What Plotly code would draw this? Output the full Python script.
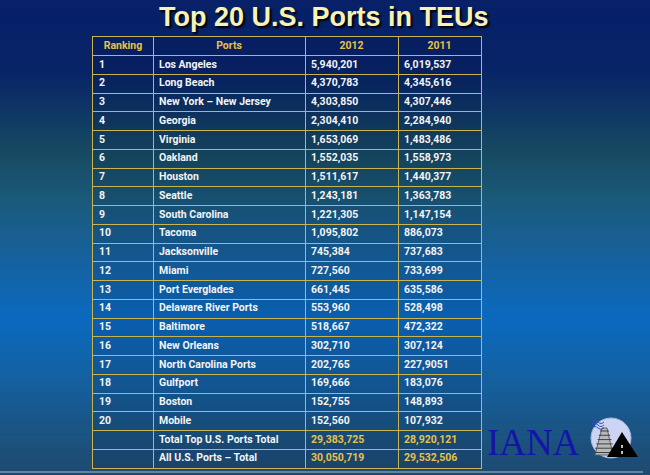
import plotly.graph_objects as go

rankings = [str(i) for i in range(1, 21)] + ["", ""]
ports = ["Los Angeles", "Long Beach", "New York – New Jersey", "Georgia", "Virginia",
         "Oakland", "Houston", "Seattle", "South Carolina", "Tacoma", "Jacksonville",
         "Miami", "Port Everglades", "Delaware River Ports", "Baltimore", "New Orleans",
         "North Carolina Ports", "Gulfport", "Boston", "Mobile",
         "Total Top U.S. Ports Total", "All U.S. Ports – Total"]
teu_2012 = ["5,940,201", "4,370,783", "4,303,850", "2,304,410", "1,653,069", "1,552,035",
            "1,511,617", "1,243,181", "1,221,305", "1,095,802", "745,384", "727,560",
            "661,445", "553,960", "518,667", "302,710", "202,765", "169,666", "152,755",
            "152,560", "29,383,725", "30,050,719"]
teu_2011 = ["6,019,537", "4,345,616", "4,307,446", "2,284,940", "1,483,486", "1,558,973",
            "1,440,377", "1,363,783", "1,147,154", "886,073", "737,683", "733,699",
            "635,586", "528,498", "472,322", "307,124", "227,9051", "183,076", "148,893",
            "107,932", "28,920,121", "29,532,506"]
headers = ["Ranking", "Ports", "2012", "2011"]
title_text = "Top 20 U.S. Ports in TEUs"

W, H = 650, 475
# table frame in pixels
TL, TR, TT, TB = 93, 481, 37, 468
col_edges = [0, 60, 212, 305, 388]          # column boundaries (x axis units = px)
PAD = 6

nrows = len(ports)
GOLD = "#e8c24a"
WHITE = "#f4f4f4"
LINE = "#c9b451"
FONT = "Roboto, Arial, sans-serif"


def px_x(px):
    return (px - TL) / (TR - TL)


def px_y(py):
    return (TB - py) / (TB - TT)


# background gradient stops (fraction from top, rgb)
stops = [(0.00, (7, 32, 104)), (0.15, (8, 36, 104)), (0.25, (16, 58, 100)),
         (0.32, (23, 74, 98)), (0.42, (26, 90, 122)), (0.53, (23, 96, 154)),
         (0.67, (11, 106, 192)), (0.80, (20, 96, 160)), (0.90, (26, 85, 133)),
         (1.00, (30, 74, 112))]


def col_at(t):
    for (t0, c0), (t1, c1) in zip(stops[:-1], stops[1:]):
        if t0 <= t <= t1:
            f = (t - t0) / (t1 - t0) if t1 > t0 else 0
            return "rgb(%d,%d,%d)" % tuple(round(a + (b - a) * f) for a, b in zip(c0, c1))
    return "rgb(%d,%d,%d)" % stops[-1][1]


shapes = []
n = 120
for i in range(n):
    y0p, y1p = H * i / n, H * (i + 1) / n
    shapes.append(dict(type="rect", xref="paper", yref="paper", x0=px_x(0), x1=px_x(W),
                       y0=px_y(y1p + 1), y1=px_y(y0p), fillcolor=col_at((i + 0.5) / n),
                       line=dict(width=0), layer="below"))
# faint tint inside table
shapes.append(dict(type="rect", xref="paper", yref="paper", x0=0, x1=1, y0=0, y1=1,
                   fillcolor="rgba(0,0,30,0.10)", line=dict(width=0), layer="below"))
# bottom light edge
shapes.append(dict(type="line", xref="paper", yref="paper", x0=px_x(0), x1=px_x(643),
                   y0=px_y(472), y1=px_y(472), line=dict(color="rgba(190,205,215,0.6)", width=1.5)))

# logo icon
cx, cy, r = 611, 438, 20
shapes.append(dict(type="circle", xref="paper", yref="paper",
                   x0=px_x(cx - r), x1=px_x(cx + r), y0=px_y(cy + r), y1=px_y(cy - r),
                   fillcolor="#ccd4f4", line=dict(color="#a8b4e0", width=1)))
shapes.append(dict(type="path", xref="paper", yref="paper",
                   path="M %f %f L %f %f L %f %f L %f %f Z" % (px_x(595), px_y(455), px_x(602), px_y(428),
                                                             px_x(607), px_y(428), px_x(613), px_y(455)),
                   fillcolor="#b8b8b8", line=dict(color="#606060", width=1)))
for k in range(6):
    yy = 431 + k * 4.3
    shapes.append(dict(type="line", xref="paper", yref="paper",
                       x0=px_x(600 - k * 1.2), x1=px_x(609 + k * 1.2), y0=px_y(yy), y1=px_y(yy),
                       line=dict(color="#404040", width=1)))
for k in range(3):
    yy = 422 + k * 3
    shapes.append(dict(type="path", xref="paper", yref="paper",
                       path="M %f %f Q %f %f %f %f Q %f %f %f %f" % (
                           px_x(592), px_y(yy), px_x(595), px_y(yy - 3), px_x(598), px_y(yy),
                           px_x(601), px_y(yy + 3), px_x(604), px_y(yy)),
                       line=dict(color="#3050c0", width=1)))
shapes.append(dict(type="path", xref="paper", yref="paper",
                   path="M %f %f L %f %f L %f %f Z" % (px_x(607), px_y(457), px_x(622), px_y(432),
                                                      px_x(638), px_y(457)),
                   fillcolor="#000000", line=dict(width=0)))
shapes.append(dict(type="line", xref="paper", yref="paper", x0=px_x(622), x1=px_x(622),
                   y0=px_y(445), y1=px_y(455), line=dict(color="#ffffff", width=1.5, dash="dot")))

fig = go.Figure()

# header row
centers = [(a + b) / 2 for a, b in zip(col_edges[:-1], col_edges[1:])]
fig.add_trace(go.Scatter(
    x=centers, y=[0.5] * len(headers), text=headers, mode="text",
    textposition="middle center", hoverinfo="skip", showlegend=False,
    textfont=dict(family=FONT, size=10.5, color=GOLD, weight="bold")))

# body columns
rows_y = [i + 1.5 for i in range(nrows)]
columns = [rankings, ports, teu_2012, teu_2011]
colors = [[WHITE] * nrows, [WHITE] * nrows,
          [WHITE] * 20 + [GOLD, GOLD], [WHITE] * 20 + [GOLD, GOLD]]
for ci, (vals, cols) in enumerate(zip(columns, colors)):
    fig.add_trace(go.Scatter(
        x=[col_edges[ci] + PAD] * nrows, y=rows_y, text=vals, mode="text",
        textposition="middle right", hoverinfo="skip", showlegend=False,
        textfont=dict(family=FONT, size=10.5, color=cols, weight="bold")))

fig.update_layout(
    width=W, height=H,
    margin=dict(l=TL, r=W - TR, t=TT, b=H - TB, pad=0),
    paper_bgcolor="#07206a", plot_bgcolor="rgba(0,0,0,0)",
    xaxis=dict(range=[col_edges[0], col_edges[-1]], tickvals=col_edges, showgrid=True,
               gridcolor=LINE, gridwidth=1, showticklabels=False, ticks="", zeroline=False,
               showline=True, mirror=True, linecolor=LINE, linewidth=1, fixedrange=True),
    yaxis=dict(range=[nrows + 1, 0], tickvals=list(range(nrows + 2)), showgrid=True,
               gridcolor=LINE, gridwidth=1, showticklabels=False, ticks="", zeroline=False,
               showline=True, mirror=True, linecolor=LINE, linewidth=1, fixedrange=True),
    shapes=shapes,
    annotations=[
        dict(text="<b>%s</b>" % title_text, xref="paper", yref="paper", x=px_x(324), y=px_y(17),
             xanchor="center", yanchor="middle", showarrow=False,
             font=dict(family="Liberation Sans, Arial, sans-serif",
                       size=27, color="#f8f3b4", shadow="2px 2px 2px #000000")),
        dict(text="IANA", xref="paper", yref="paper", x=px_x(533), y=px_y(442),
             xanchor="center", yanchor="middle", showarrow=False,
             font=dict(family="Liberation Serif, Times New Roman, serif", size=37, color="#1414a8")),
    ],
)

fig.write_html("out.html", config={"displayModeBar": False, "staticPlot": True},
               post_script="document.body.style.margin='0';document.body.style.overflow='hidden';")
